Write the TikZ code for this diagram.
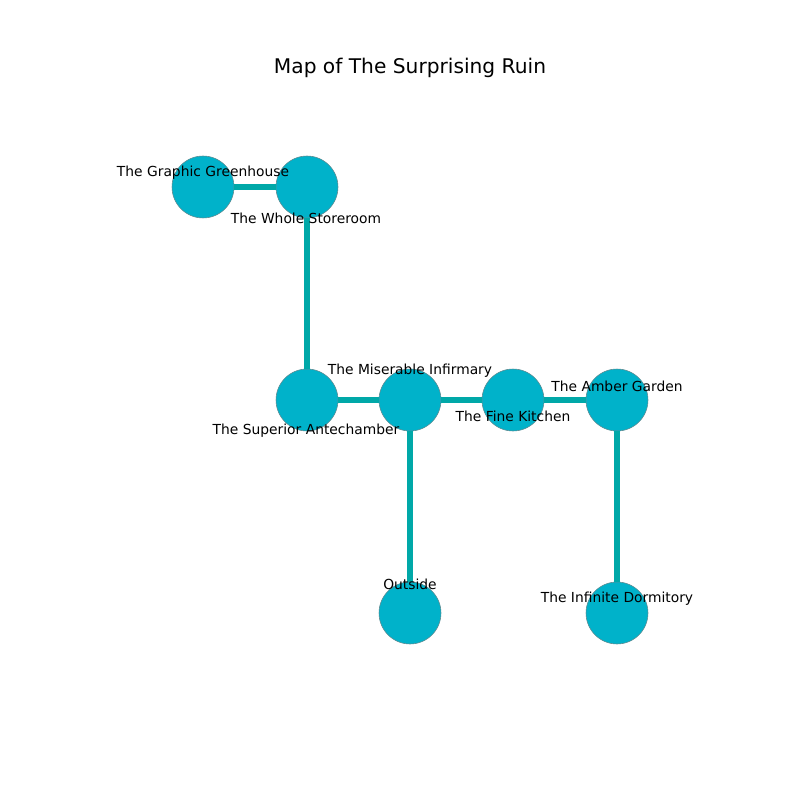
\documentclass[tikz,border=0pt]{standalone}
\usepackage{fontspec}
\setmainfont{DejaVu Sans}
\usepackage{tikz}
\definecolor{odaMavi}{HTML}{00B2CA}
\definecolor{yolYesil}{HTML}{00A8A8}
\definecolor{kenarGri}{HTML}{5F8A90}

\begin{document}
\begin{tikzpicture}[x=0.0254cm,y=-0.0254cm,
  oda/.style={circle,fill=odaMavi,draw=kenarGri,line width=0.4pt,minimum size=1.575cm,inner sep=0pt},
  yol/.style={yolYesil,line width=3.8pt},
  etiket/.style={font=\fontsize{10}{12}\selectfont,inner sep=0pt}]
\useasboundingbox (0,0) rectangle (800,800);
\node[font=\fontsize{14.6}{17}\selectfont] (baslik) at (410,68) {Map of The Surprising Ruin};
% odalar
\node[oda] (sera) at (203,187) {};
\node[oda] (depo) at (307,187) {};
\node[oda] (giris) at (307,400) {};
\node[oda] (revir) at (410,400) {};
\node[oda] (mutfak) at (513,400) {};
\node[oda] (bahce) at (617,400) {};
\node[oda] (disari) at (410,613) {};
\node[oda] (yatak) at (617,613) {};
% yollar
\draw[yol] (sera)--(depo);
\draw[yol] (depo)--(giris);
\draw[yol] (giris)--(revir);
\draw[yol] (revir)--(mutfak);
\draw[yol] (mutfak)--(bahce);
\draw[yol] (revir)--(disari);
\draw[yol] (bahce)--(yatak);
% isimler
\node[etiket] (seraAd) at (203,173) {The Graphic Greenhouse};
\node[etiket] (depoAd) at (306,218) {The Whole Storeroom};
\node[etiket] (revirAd) at (410,371) {The Miserable Infirmary};
\node[etiket] (girisAd) at (306,431) {The Superior Antechamber};
\node[etiket] (mutfakAd) at (513,416) {The Fine Kitchen};
\node[etiket] (bahceAd) at (617,386) {The Amber Garden};
\node[etiket] (disariAd) at (410,584) {Outside};
\node[etiket] (yatakAd) at (617,599) {The Infinite Dormitory};
\end{tikzpicture}
\end{document}
